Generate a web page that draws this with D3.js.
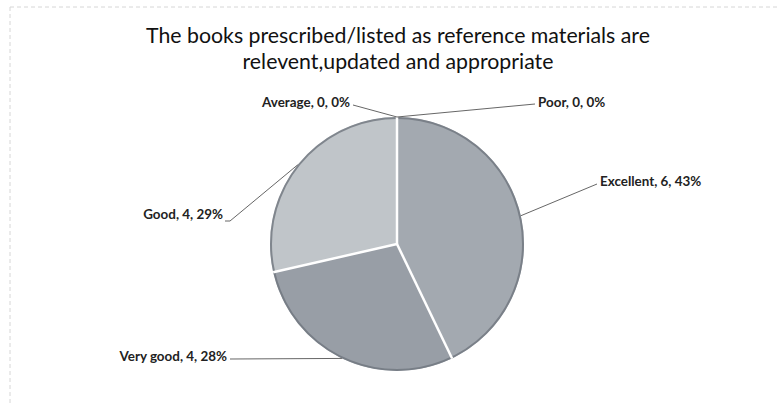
<!DOCTYPE html>
<html><head><meta charset="utf-8">
<script src="https://cdn.jsdelivr.net/npm/d3@7/dist/d3.min.js"></script>
<style>body{margin:0;background:#fff}svg{display:block}</style>
</head><body>
<svg id="c" width="779" height="406"></svg>
<script>
const categories = ["Excellent", "Very good", "Good", "Average", "Poor"];
const counts = [6, 4, 4, 0, 0];
const percents = ["43%", "28%", "29%", "0%", "0%"];
const titleLines = ["The books prescribed/listed as reference materials are", "relevent,updated and appropriate"];

// layout (not data)
const colors = ["#a3a9b0", "#989ea6", "#c0c5c9", "#b0b5ba", "#b0b5ba"];
const labelPos = [
  {x: 600, y: 183, anchor: "start", lx: 597, ly: 184, bend: null},
  {x: 227, y: 358, anchor: "end", lx: 230, ly: 359, bend: null},
  {x: 223, y: 216, anchor: "end", lx: 225, ly: 221, bend: [230, 221]},
  {x: 350, y: 104, anchor: "end", lx: 353, ly: 105, bend: null},
  {x: 538, y: 104, anchor: "start", lx: 535, ly: 104, bend: null}
];
const cx = 397, cy = 244, R = 127;

const svg = d3.select("#c");
const font = "Lato, 'Open Sans', sans-serif";

// faint scan frame
svg.append("line").attr("x1", 10).attr("y1", 7).attr("x2", 779).attr("y2", 7)
  .attr("stroke", "#d6d6d6").attr("stroke-width", 1).attr("stroke-dasharray", "4,3");
svg.append("line").attr("x1", 10).attr("y1", 7).attr("x2", 10).attr("y2", 406)
  .attr("stroke", "#d6d6d6").attr("stroke-width", 1).attr("stroke-dasharray", "4,3");

// title
const title = svg.append("g");
const t1 = title.append("text").attr("x", 398).attr("y", 43).attr("text-anchor", "middle")
  .attr("font-family", font).attr("font-size", 18).attr("fill", "#111").text(titleLines[0]);
const w = t1.node().getComputedTextLength();
const fs = 18 * 504 / w;
t1.attr("font-size", fs);
title.append("text").attr("x", 398).attr("y", 69).attr("text-anchor", "middle")
  .attr("font-family", font).attr("font-size", fs).attr("fill", "#111").text(titleLines[1]);

// pie
const data = categories.map((c, i) => ({cat: c, value: counts[i], pct: percents[i], i}));
const pie = d3.pie().sort(null).value(d => d.value).startAngle(0).endAngle(2 * Math.PI);
const arcs = pie(data);
const arc = d3.arc().innerRadius(0).outerRadius(R);
const g = svg.append("g").attr("transform", `translate(${cx},${cy})`);

g.selectAll("path.slice").data(arcs.filter(a => a.data.value > 0)).join("path")
  .attr("class", "slice").attr("d", arc).attr("fill", d => colors[d.data.i])
  .attr("stroke", "none");
g.append("circle").attr("r", R - 1).attr("fill", "none").attr("stroke", "#6f767e").attr("stroke-width", 2).attr("opacity", 0.8);
g.selectAll("path.sep").data(arcs.filter(a => a.data.value > 0)).join("path")
  .attr("class", "sep").attr("d", d => {
    const a = d.startAngle;
    return `M0,0L${R * Math.sin(a)},${-R * Math.cos(a)}`;
  }).attr("stroke", "#fff").attr("stroke-width", 2.5);

// label font size fitted so "Average, 0, 0%" spans ~88px
const probe = svg.append("text").attr("font-family", font).attr("font-weight", "bold")
  .attr("font-size", 10).text(`${categories[3]}, ${counts[3]}, ${percents[3]}`);
const lfs = 10 * 88 / probe.node().getComputedTextLength();
probe.remove();

// leader lines + labels
arcs.forEach(a => {
  const i = a.data.i;
  const mid = (a.startAngle + a.endAngle) / 2;
  const px = cx + R * Math.sin(mid), py = cy - R * Math.cos(mid);
  const lp = labelPos[i];
  const pts = [[px, py]];
  if (lp.bend) pts.push(lp.bend);
  pts.push([lp.lx, lp.ly]);
  svg.append("path").attr("d", d3.line()(pts)).attr("fill", "none")
    .attr("stroke", "#555").attr("stroke-width", 0.9);
  svg.append("text").attr("x", lp.x).attr("y", lp.y).attr("text-anchor", lp.anchor)
    .attr("dominant-baseline", "middle").attr("font-family", font).attr("font-weight", "bold")
    .attr("font-size", lfs).attr("fill", "#222")
    .text(`${a.data.cat}, ${a.data.value}, ${a.data.pct}`);
});
</script>
</body></html>
